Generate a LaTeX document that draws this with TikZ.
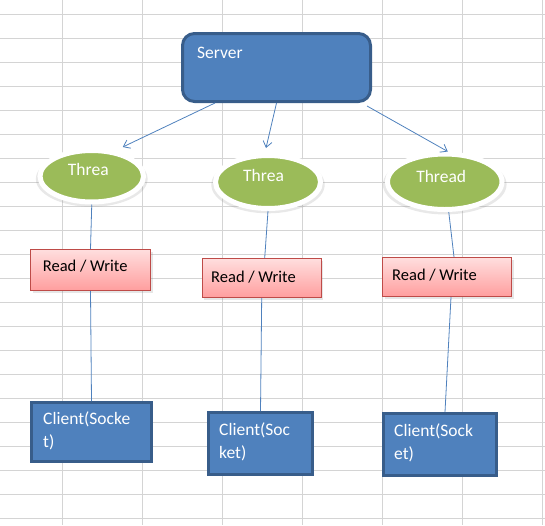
\documentclass[tikz,border=0pt]{standalone}
\usepackage{fontspec}
\setmainfont{Carlito}
\usetikzlibrary{arrows.meta,shapes.geometric,shadows}
\tikzset {>={Straight Barb[length=6pt,width=9pt]}}

\definecolor{gridgray}{HTML}{D4D4D4}
\definecolor{boxblue}{HTML}{4F81BD}
\definecolor{edgeblue}{HTML}{385D8A}
\definecolor{threadgreen}{HTML}{9BBB59}
\definecolor{rwtop}{HTML}{FFDEDE}
\definecolor{rwbot}{HTML}{FF9E9E}
\definecolor{rwedge}{HTML}{BE4B48}

\tikzset{
  gridline/.style={draw=gridgray, line width=1pt},
  server/.style={rectangle, rounded corners=12pt, draw=edgeblue, fill=boxblue,
    line width=3pt, inner sep=0pt, minimum width=188pt, minimum height=68pt},
  thread/.style={ellipse, draw=white, fill=threadgreen, line width=5pt, inner sep=0pt,
    drop shadow={shadow xshift=0pt, shadow yshift=-2.5pt, shadow scale=1.08, opacity=.18}},
  rwbox/.style={rectangle, draw=rwedge, top color=rwtop, bottom color=rwbot,
    line width=1pt, inner sep=0pt,
    drop shadow={shadow xshift=2pt, shadow yshift=-2pt, opacity=.2}},
  client/.style={rectangle, draw=edgeblue, fill=boxblue, line width=3pt, inner sep=0pt},
  wtext/.style={text=white, font=\fontsize{17.5}{22.5}\selectfont, inner sep=0pt,
    anchor=base west, align=left},
  btext/.style={text=black, font=\fontsize{16.5}{20}\selectfont, inner sep=0pt,
    anchor=base west},
  link/.style={draw=boxblue, line width=.8pt}
}

\begin{document}
\begin{tikzpicture}[x=1pt,y=-1pt]
\useasboundingbox (0,0) rectangle (545,525);

% sheet grid
\foreach \i in {0,...,6}
  \draw[gridline] ({62.5+80*\i},0) -- ({62.5+80*\i},525);
\foreach \i in {0,...,21}
  \draw[gridline] (0,{14.3+24*\i}) -- (545,{14.3+24*\i});

% shapes
\node[server] (srv) at (276.5,67.5) {};

\node[thread, minimum width=103.5pt, minimum height=51.5pt] (thr1) at (91.75,176.25) {};
\node[thread, minimum width=105pt, minimum height=53pt] (thr2) at (268,182) {};
\node[thread, minimum width=114.5pt, minimum height=55.5pt] (thr3) at (444.75,181.75) {};

\node[rwbox, minimum width=120pt, minimum height=41pt] (rw1) at (90.5,270) {};
\node[rwbox, minimum width=119pt, minimum height=39pt] (rw2) at (261.7,278) {};
\node[rwbox, minimum width=129pt, minimum height=39pt] (rw3) at (447,277) {};

\node[client, minimum width=120pt, minimum height=59pt] (cl1) at (91.5,432) {};
\node[client, minimum width=104pt, minimum height=62pt] (cl2) at (260.5,443.5) {};
\node[client, minimum width=113pt, minimum height=62pt] (cl3) at (440,444.5) {};

% texts (two-line texts sit on their last baseline)
\node[wtext] (srvtext) at ([shift={(-79.5,-9.5)}]srv.center) {Server};
\node[wtext] (thr1text) at ([shift={(-24,-1.2)}]thr1.center) {Threa};
\node[wtext] (thr2text) at ([shift={(-25,-1)}]thr2.center) {Threa};
\node[wtext] (thr3text) at ([shift={(-28.7,1.2)}]thr3.center) {Thread};
\node[btext] (rw1text) at ([shift={(-47.8,1.7)}]rw1.center) {Read / Write};
\node[btext] (rw2text) at ([shift={(-50.7,4)}]rw2.center) {Read / Write};
\node[btext] (rw3text) at ([shift={(-55,3)}]rw3.center) {Read / Write};
\node[wtext] (cl1text) at ([shift={(-48.5,15)}]cl1.center) {Client(Socke\\t)};
\node[wtext] (cl2text) at ([shift={(-41.5,14.5)}]cl2.center) {Client(Soc\\ket)};
\node[wtext] (cl3text) at ([shift={(-46,14.5)}]cl3.center) {Client(Sock\\et)};

% connectors
\draw[link,->] ([xshift=-61.5pt]srv.south) -- ([shift={(31,-1)}]thr1.north);
\draw[link,->] (srv.south) -- ([shift={(-2,-5)}]thr2.north);
\draw[link,->] ([shift={(-5,3)}]srv.south east) -- ([xshift=3pt]thr3.north);

\draw[link] (thr1.south) -- (rw1.north);
\draw[link] (rw1.south) -- (cl1.north);
\draw[link] (thr2.south) -- ([xshift=3pt]rw2.north);
\draw[link] (rw2.south) -- (cl2.north);
\draw[link] ([xshift=4pt]thr3.south) -- ([xshift=7pt]rw3.north);
\draw[link] ([xshift=4pt]rw3.south) -- ([xshift=5pt]cl3.north);
\end{tikzpicture}
\end{document}
